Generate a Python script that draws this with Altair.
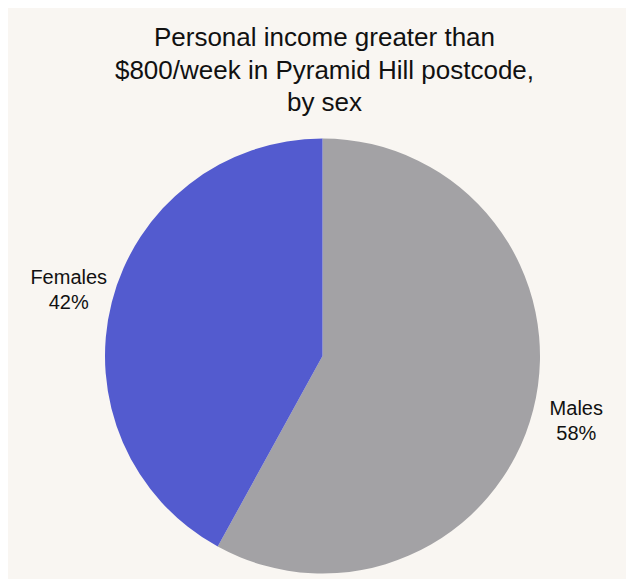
import altair as alt
import pandas as pd

sexes = ["Males", "Females"]
shares = [58, 42]
colors = ["#a3a2a5", "#535bcf"]

df = pd.DataFrame({
    "sex": sexes,
    "share": shares,
    "order": list(range(len(sexes))),
})
df["label"] = [f"{s}\n{v}%" for s, v in zip(sexes, shares)]

cx, cy = 314.5, 218

base = alt.Chart(df).encode(
    theta=alt.Theta("share:Q", stack=True),
    order=alt.Order("order:Q"),
)

pie = base.mark_arc(outerRadius=217.5).encode(
    x=alt.value(cx),
    y=alt.value(cy),
    color=alt.Color("sex:N", scale=alt.Scale(domain=sexes, range=colors), legend=None),
)

labels = base.mark_text(
    radius=262, fontSize=20, font="Liberation Sans", color="#111111",
    lineBreak="\n", align="center", baseline="middle", lineHeight=25, dy=-12.5,
).encode(
    x=alt.value(cx),
    y=alt.value(cy),
    text="label:N",
)

chart = (pie + labels).properties(
    width=618,
    height=441,
    autosize=alt.AutoSizeParams(type="none"),
    padding={"left": 0, "right": 0, "top": 130, "bottom": 0},
    background="#f9f6f2",
    title=alt.Title(
        ["Personal income greater than", "$800/week in Pyramid Hill postcode,", "by sex"],
        fontSize=26, font="Liberation Sans", fontWeight="normal", color="#111111",
        lineHeight=32.5, anchor="middle", offset=22, dx=7.5,
    ),
).configure_view(stroke=None)

chart.save("out.html", embed_options={"renderer": "svg", "actions": False})
